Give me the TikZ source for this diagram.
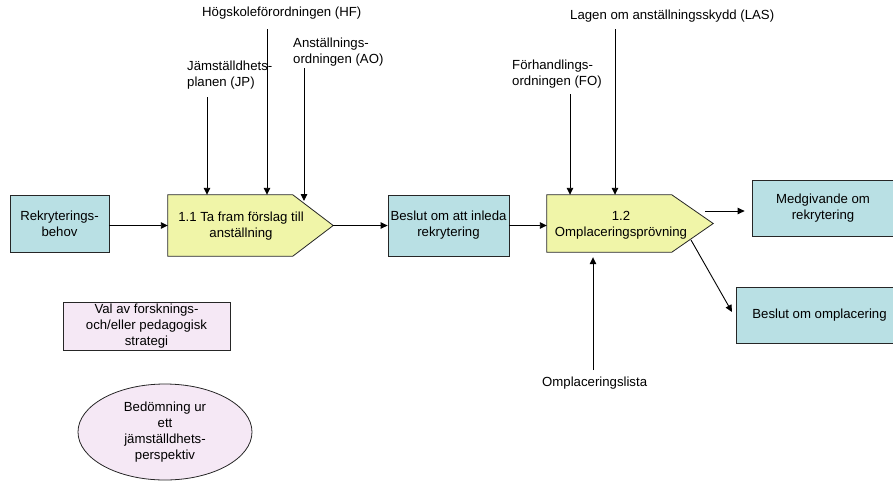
\documentclass[tikz,border=0pt]{standalone}
\usepackage{fontspec}
\setmainfont{Liberation Sans}
\usetikzlibrary{arrows.meta,calc,shapes.geometric}

\definecolor{boxteal}{RGB}{185,224,228}
\definecolor{procyellow}{RGB}{240,245,168}
\definecolor{notepink}{RGB}{245,232,245}

\tikzset{
  databox/.style={draw=black!85, fill=boxteal, line width=0.8pt, align=center, inner sep=0pt},
  notebox/.style={draw=black!85, fill=notepink, line width=0.8pt, align=center, inner sep=0pt},
  procarea/.style={inner sep=0pt},
  procshape/.style={draw=black!85, fill=procyellow, line width=0.8pt},
  labeltext/.style={align=left, inner sep=0pt},
  flow/.style={draw=black, line width=0.9pt, -{Triangle[length=7pt,width=6.5pt]}},
}

\begin{document}
\begin{tikzpicture}[x=1pt, y=-1pt, font=\fontsize{13.2}{16}\selectfont]
\useasboundingbox (0,0) rectangle (893,482);
\clip (0,0) rectangle (893,482);

% --- main chain of boxes and process steps ---
\node[databox, minimum width=99pt, minimum height=57pt] (rekr) at (59.5,223.5) {Rekryterings-\\behov};

\node[procarea, minimum width=165pt, minimum height=61pt] (p11) at (250.5,225.5) {};
\draw[procshape] (p11.north west) -- ++(125,0) -- (p11.east)
  -- ($(p11.south west)+(125,0)$) -- (p11.south west) -- cycle;
\node[align=center, inner sep=0pt] (t11) at (241,226) {1.1 Ta fram förslag till\\anställning};

\node[databox, minimum width=121pt, minimum height=61pt] (beslut) at (448.5,225.5) {Beslut om att inleda\\rekrytering};

\node[procarea, minimum width=166pt, minimum height=57pt] (p12) at (630,223.5) {};
\draw[procshape] (p12.north west) -- ++(125,0) -- (p12.east)
  -- ($(p12.south west)+(125,0)$) -- (p12.south west) -- cycle;
\node[align=center, inner sep=0pt] (t12) at (621,225) {1.2\\Omplaceringsprövning};

\node[databox, minimum width=142pt, minimum height=56pt] (med) at (823,208) {Medgivande om\\rekrytering};
\node[databox, minimum width=167pt, minimum height=56pt] (oml) at (819.5,315) {Beslut om omplacering};

% --- side notes ---
\node[notebox, minimum width=167pt, minimum height=48pt] (val) at (146.5,326) {Val av forsknings-\\och/eller pedagogisk\\strategi};
\node[notebox, ellipse, minimum width=174pt, minimum height=96pt] (bed) at (165,432) {Bedömning ur\\ett\\jämställdhets-\\perspektiv};

% --- control and input labels ---
\node[labeltext, anchor=west] (hf) at (202,13) {Högskoleförordningen (HF)};
\node[labeltext, anchor=west] (jp) at (187,75) {Jämställdhets-\\planen (JP)};
\node[labeltext, anchor=west] (ao) at (293,52) {Anställnings-\\ordningen (AO)};
\node[labeltext, anchor=west] (las) at (570,16) {Lagen om anställningsskydd (LAS)};
\node[labeltext, anchor=west] (fo) at (512,74) {Förhandlings-\\ordningen (FO)};
\node[labeltext, anchor=west] (omlist) at (542,383) {Omplaceringslista};

% line start points under the labels
\coordinate (jpin)  at (207,97);
\coordinate (hfin)  at (267,29);
\coordinate (aoin)  at (304,68);
\coordinate (aoend) at (304,201);
\coordinate (foin)  at (570,94);
\coordinate (lasin) at (615,29);
\coordinate (olin)  at (593,370);
\coordinate (medout) at (705,211);
\coordinate (omout)  at (691,240);
\coordinate (omtip)  at (732,312);

% --- connectors ---
\draw[flow] (rekr.east |- p11.west) -- (p11.west);
\draw[flow] (p11.east) -- (beslut.west);
\draw[flow] (beslut.east) -- (beslut.east -| p12.west);

\draw[flow] (jpin) -- (jpin |- p11.north);
\draw[flow] (hfin) -- (hfin |- p11.north);
\draw[flow] (aoin) -- (aoend);
\draw[flow] (foin) -- (foin |- p12.north);
\draw[flow] (lasin) -- (lasin |- p12.north);
\draw[flow, shorten >=5pt] (olin) -- (olin |- p12.south);

\draw[flow, shorten >=7pt] (medout) -- (medout -| med.west);
\draw[flow] (omout) -- (omtip);
\end{tikzpicture}
\end{document}
